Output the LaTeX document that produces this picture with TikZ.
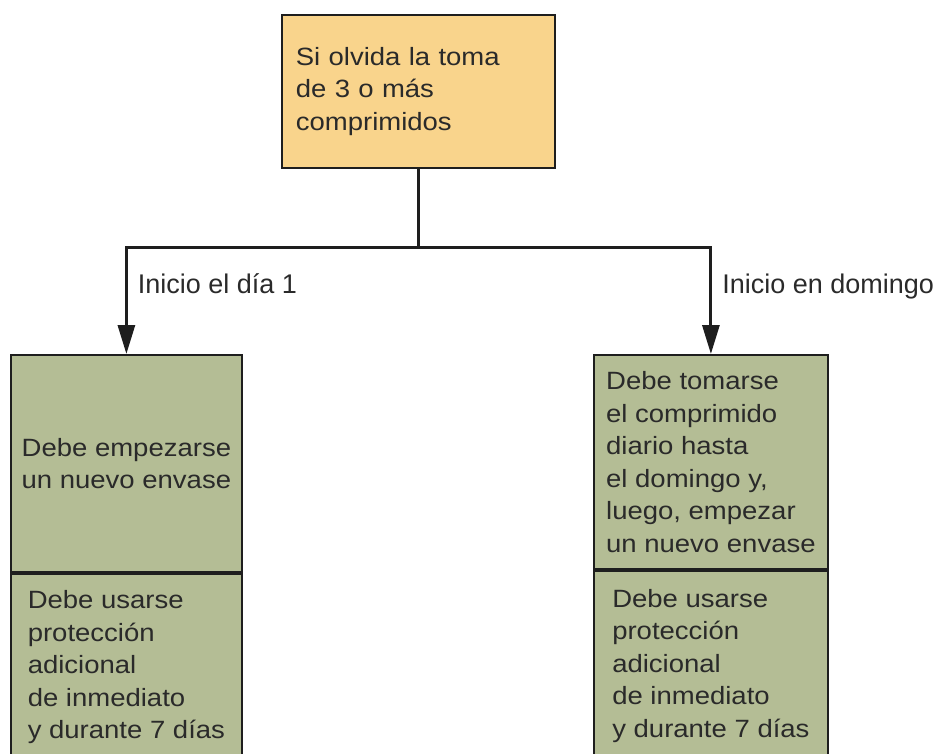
\documentclass[tikz,border=0pt]{standalone}
\usepackage{fontspec}
\setmainfont{Liberation Sans}
\newfontfamily\boxfont{Liberation Sans}[FakeStretch=1.1]
\usetikzlibrary{arrows.meta,positioning}
\definecolor{tomaorange}{HTML}{F9D48C}
\definecolor{boxgreen}{HTML}{B4BD95}
\definecolor{boxline}{HTML}{1E1E1E}
\definecolor{inkgray}{HTML}{2A2A2A}

\begin{document}
\begin{tikzpicture}[x=1pt,y=-1pt,
  box/.style={draw=boxline,line width=1.8pt,anchor=north west,inner sep=0pt,
    align=left,text=inkgray,font=\boxfont\fontsize{25}{32.5}\selectfont},
  conn/.style={draw=boxline,line width=3pt},
  branch/.style={conn,-{Triangle[length=29pt,width=17pt]}},
  branchlabel/.style={font=\fontsize{27}{32}\selectfont,text=inkgray,
    anchor=base west,inner xsep=10pt,pos=0.713}]
  \useasboundingbox (0,0) rectangle (942,753);
  \clip (0,0) rectangle (942,753);

  % olvido
  \node[box,fill=tomaorange,minimum height=153pt,text width=245pt,inner xsep=14pt]
    (toma) at (281,14) {Si olvida la toma\\de 3 o más\\comprimidos};

  % inicio el dia 1
  \node[box,fill=boxgreen,minimum width=231pt,minimum height=217pt,align=center]
    (dia1) at (10,354) {Debe empezarse\\un nuevo envase};
  \node[box,fill=boxgreen,minimum width=231pt,minimum height=187pt]
    (dia1prot) at (dia1.south west) {Debe usarse\\protección\\adicional\\de inmediato\\y durante 7 días};

  % inicio en domingo
  \node[box,fill=boxgreen,minimum width=234pt,minimum height=214pt]
    (domingo) at (593,354) {Debe tomarse\\el comprimido\\diario hasta\\el domingo y,\\luego, empezar\\un nuevo envase};
  \node[box,fill=boxgreen,minimum width=234pt,minimum height=190pt]
    (domprot) at (domingo.south west) {Debe usarse\\protección\\adicional\\de inmediato\\y durante 7 días};

  % ramas
  \path (toma.south) ++(0,79) coordinate (fork);
  \draw[conn] (toma.south) -- (fork);
  \draw[branch] (fork) -| node[branchlabel] {Inicio el día 1} (dia1.north);
  \draw[branch] (fork) -| node[branchlabel] {Inicio en domingo} (domingo.north);
\end{tikzpicture}
\end{document}
